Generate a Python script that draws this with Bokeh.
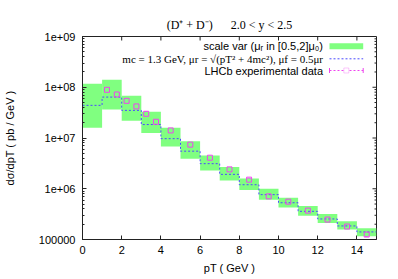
import math
from bokeh.plotting import figure
from bokeh.models import (FixedTicker, Label, BoxAnnotation, Arrow, Whisker, TeeHead,
                          ColumnDataSource)
from bokeh.embed import file_html
from bokeh.resources import INLINE

# ---- data ----
bin_lo = [0, 1, 2, 3, 4, 5, 6, 7, 8, 9, 10, 11, 12, 13, 14]
bin_hi = [1, 2, 3, 4, 5, 6, 7, 8, 9, 10, 11, 12, 13, 14, 15]
theory_central = [4.4e7, 6.4e7, 3.5e7, 1.84e7, 9.7e6, 5.5e6, 3.12e6, 1.92e6, 1.2e6,
                  7.65e5, 5.3e5, 3.59e5, 2.54e5, 1.85e5, 1.41e5]
theory_up = [1.17e8, 1.41e8, 6.8e7, 3.3e7, 1.6e7, 8.6e6, 4.54e6, 2.67e6, 1.6e6,
             9.96e5, 6.68e5, 4.56e5, 3.18e5, 2.28e5, 1.66e5]
theory_down = [1.6e7, 3.66e7, 2.19e7, 1.26e7, 6.8e6, 3.9e6, 2.3e6, 1.46e6, 9.5e5,
               6.1e5, 4.25e5, 2.95e5, 2.11e5, 1.57e5, 1.16e5]

data_pt = [1.25, 1.75, 2.25, 2.75, 3.25, 3.75, 4.5, 5.5, 6.5, 7.5, 8.5, 9.5, 10.5,
           11.5, 12.5, 13.5, 14.5]
data_val = [8.9e7, 7.2e7, 5.4e7, 4.19e7, 3.0e7, 2.09e7, 1.41e7, 7.4e6, 4.09e6, 2.41e6,
            1.51e6, 7.08e5, 5.57e5, 3.71e5, 2.47e5, 1.80e5, 1.25e5]
data_err = [1.9e7, 1.2e7, 6.5e6, 4.2e6, 2.7e6, 1.7e6, 1.0e6, 4.4e5, 2.5e5, 1.4e5,
            9.0e4, 4.2e4, 3.3e4, 2.2e4, 1.5e4, 1.3e4, 1.0e4]

x_ticks = [0, 2, 4, 6, 8, 10, 12, 14]
y_ticks = [1e5, 1e6, 1e7, 1e8, 1e9]
y_tick_labels = ["100000", "1e+06", "1e+07", "1e+08", "1e+09"]

title_text = "(D\u207a + D\u207b)\u2003\u20022.0 < y < 2.5"
x_label = "pT ( GeV )"
y_label = "d\u03c3/dpT ( pb / GeV )"
legend_texts = ["scale var (\u03bc\u1d63 in [0.5,2]\u03bc\u2080)",
                "mc = 1.3 GeV, \u03bcr = \u221a(pT\u00b2 + 4mc\u00b2), \u03bcf = 0.5\u03bcr",
                "LHCb experimental data"]

GREEN = "#80ff80"
BLUE = "#4a4aff"
MAG = "#ee44ee"
SANS = "Liberation Sans"
SERIF = "Liberation Serif"
AX = "#222222"

XMIN, XMAX, YMIN, YMAX = 0, 15, 1e5, 1e9
W, H = 398, 279
ML, MR, MT, MB = 81, 22, 36, 40

p = figure(width=W, height=H, x_range=(XMIN, XMAX), y_range=(YMIN, YMAX),
           y_axis_type="log", output_backend="svg", toolbar_location=None,
           min_border_left=ML, min_border_right=MR, min_border_top=MT,
           min_border_bottom=MB)
p.background_fill_color = "white"
p.border_fill_color = "white"
p.outline_line_color = AX
p.xgrid.visible = False
p.ygrid.visible = False

p.title.text = title_text
p.title.align = "center"
p.title.text_font = SERIF
p.title.text_font_size = "12px"
p.title.text_font_style = "normal"
p.title.text_color = "black"
p.title.standoff = 10

# theory band
p.quad(left=bin_lo, right=bin_hi, top=theory_up, bottom=theory_down,
       fill_color=GREEN, line_color=None)

# central step line
step_x = bin_lo + [bin_hi[-1]]
step_y = theory_central + [theory_central[-1]]
p.step(step_x, step_y, mode="after", line_color=BLUE, line_dash="2 2", line_width=1)

# data with error bars
src = ColumnDataSource(dict(x=data_pt, y=data_val,
                            lo=[v - e for v, e in zip(data_val, data_err)],
                            hi=[v + e for v, e in zip(data_val, data_err)]))
p.add_layout(Whisker(base="x", upper="hi", lower="lo", source=src, line_color=MAG,
                     line_width=1,
                     upper_head=TeeHead(size=4, line_color=MAG),
                     lower_head=TeeHead(size=4, line_color=MAG)))
p.scatter("x", "y", source=src, marker="square", size=5, fill_color=None,
          line_color=MAG, line_width=1)

# axes (ticks inside)
minor_y = [k * 10 ** e for e in range(5, 9) for k in range(2, 10)]
p.xaxis.ticker = FixedTicker(ticks=x_ticks, minor_ticks=[])
p.yaxis.ticker = FixedTicker(ticks=y_ticks, minor_ticks=minor_y)
p.yaxis.major_label_overrides = {v: s for v, s in zip(y_ticks, y_tick_labels)}
for ax in (p.xaxis[0], p.yaxis[0]):
    ax.major_tick_in = 4
    ax.major_tick_out = 0
    ax.minor_tick_in = 2
    ax.minor_tick_out = 0
    ax.axis_line_color = AX
    ax.major_tick_line_color = AX
    ax.minor_tick_line_color = AX
    ax.major_label_text_font = SANS
    ax.major_label_text_font_size = "11px"
    ax.major_label_text_color = "black"
    ax.axis_label_text_font = SANS
    ax.axis_label_text_font_size = "11px"
    ax.axis_label_text_font_style = "normal"
    ax.axis_label_text_color = "black"
p.xaxis.major_label_standoff = 6
p.yaxis.major_label_standoff = 7
p.xaxis.axis_label = x_label
p.yaxis.axis_label = y_label
p.xaxis.axis_label_standoff = 5
p.yaxis.axis_label_standoff = 20

# mirror ticks on top and right border (4px major, 2px minor)
PX_PER_X = (W - ML - MR) / (XMAX - XMIN)
PX_PER_DEC = (H - MT - MB) / math.log10(YMAX / YMIN)
top_y1 = YMAX / 10 ** (4 / PX_PER_DEC)
p.segment(x0=x_ticks, y0=[YMAX] * len(x_ticks), x1=x_ticks, y1=[top_y1] * len(x_ticks),
          line_color=AX, line_width=1)
p.segment(x0=[XMAX] * len(y_ticks), y0=y_ticks,
          x1=[XMAX - 4 / PX_PER_X] * len(y_ticks), y1=y_ticks,
          line_color=AX, line_width=1)
p.segment(x0=[XMAX] * len(minor_y), y0=minor_y,
          x1=[XMAX - 2 / PX_PER_X] * len(minor_y), y1=minor_y,
          line_color=AX, line_width=1)

# ---- legend, placed relative to frame (x from left, y up from bottom) ----
FL, FB = float(ML), float(H - MB)
def fx(px):
    return px - FL
def fy(py):
    return FB - py

def lab(text, px, py, font=SANS, size="11px", align="left"):
    p.add_layout(Label(x=fx(px), y=fy(py), x_units="screen", y_units="screen",
                       text=text, text_font=font, text_font_size=size,
                       text_align=align, text_baseline="middle", text_color="black"))

rows_y = [45.8, 58.3, 70.0]
TX = 321.5
S0, S1 = 328.0, 361.7
lab(legend_texts[0], TX, rows_y[0], align="right")
lab(legend_texts[1], TX, rows_y[1], font=SERIF, size="11px", align="right")
lab(legend_texts[2], TX, rows_y[2], align="right")

p.add_layout(BoxAnnotation(left=fx(S0), right=fx(S1), bottom=fy(rows_y[0] + 3),
                           top=fy(rows_y[0] - 3), left_units="screen",
                           right_units="screen", top_units="screen",
                           bottom_units="screen", fill_color=GREEN, fill_alpha=1,
                           line_color=None))
p.add_layout(Arrow(x_start=fx(S0), y_start=fy(rows_y[1]), x_end=fx(S1),
                   y_end=fy(rows_y[1]), start_units="screen", end_units="screen",
                   end=None, line_color=BLUE, line_dash="2 2", line_width=1))
p.add_layout(Arrow(x_start=fx(S0), y_start=fy(rows_y[2]), x_end=fx(S1),
                   y_end=fy(rows_y[2]), start_units="screen", end_units="screen",
                   end=None, line_color=MAG, line_dash="2 2", line_width=1))
for sx in (S0, S1):
    p.add_layout(Arrow(x_start=fx(sx), y_start=fy(rows_y[2] - 2.5), x_end=fx(sx),
                       y_end=fy(rows_y[2] + 2.5), start_units="screen",
                       end_units="screen", end=None, line_color=MAG, line_width=1))
mx = (S0 + S1) / 2
p.add_layout(BoxAnnotation(left=fx(mx - 2.5), right=fx(mx + 2.5),
                           bottom=fy(rows_y[2] + 2.5), top=fy(rows_y[2] - 2.5),
                           left_units="screen", right_units="screen",
                           top_units="screen", bottom_units="screen",
                           fill_color="white", fill_alpha=1, line_color=MAG,
                           line_width=1))

open("out.html", "w").write(file_html(p, INLINE))
